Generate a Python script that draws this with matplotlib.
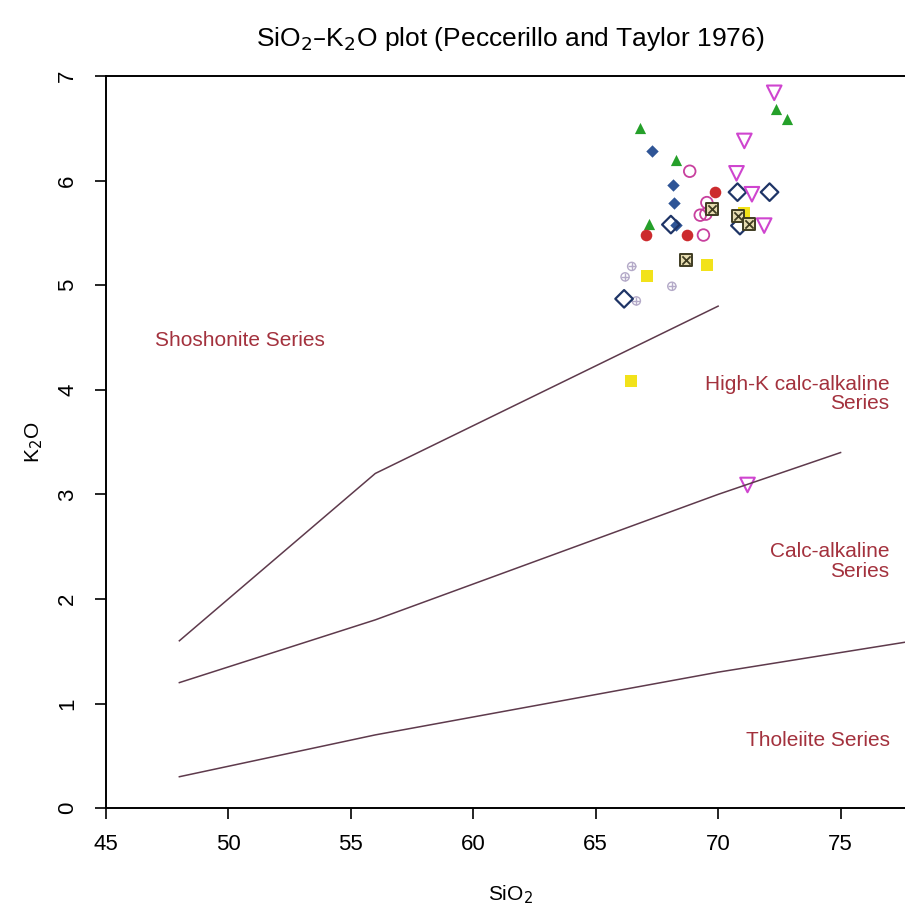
import matplotlib.pyplot as plt
import numpy as np

plt.rcParams['font.family'] = ['Liberation Sans', 'DejaVu Sans']

# classification boundaries (Peccerillo & Taylor 1976)
shosh_x = [48, 56, 63, 70]
shosh_y = [1.6, 3.2, 4.0, 4.8]
highk_x = [48, 52, 56, 63, 70, 75]
highk_y = [1.2, 1.5, 1.8, 2.4, 3.0, 3.4]
thol_x = [48, 52, 56, 63, 70, 78]
thol_y = [0.3, 0.5, 0.7, 1.0, 1.3, 1.6]

# samples, one list pair per group
green_x = [66.8, 68.27, 67.18, 72.36, 72.8]
green_y = [6.50, 6.20, 5.59, 6.69, 6.59]
blue_x = [67.29, 68.16, 68.2, 68.3]
blue_y = [6.28, 5.96, 5.79, 5.58]
ring_x = [68.84, 69.54, 69.27, 69.5, 69.4]
ring_y = [6.09, 5.79, 5.67, 5.68, 5.48]
red_x = [69.88, 67.07, 68.71]
red_y = [5.89, 5.48, 5.48]
diam_x = [70.79, 72.1, 70.89, 68.07, 66.16]
diam_y = [5.89, 5.89, 5.57, 5.58, 4.87]
tri_x = [72.29, 71.07, 70.75, 71.38, 71.88, 71.2]
tri_y = [6.84, 6.38, 6.07, 5.87, 5.57, 3.09]
yellow_x = [71.07, 69.54, 67.09, 66.43]
yellow_y = [5.69, 5.19, 5.09, 4.08]
boxx_x = [69.77, 70.82, 71.28, 68.68]
boxx_y = [5.73, 5.66, 5.59, 5.24]
grey_x = [66.47, 66.2, 68.11, 66.66]
grey_y = [5.18, 5.08, 4.99, 4.85]

fig = plt.figure(figsize=(9.05, 9.09), dpi=100)
ax = fig.add_axes([0.117, 0.111, 0.893, 0.8053])

line_col = '#5e3a4c'
ax.plot(shosh_x, shosh_y, color=line_col, lw=1.1)
ax.plot(highk_x, highk_y, color=line_col, lw=1.1)
ax.plot(thol_x, thol_y, color=line_col, lw=1.1)

ax.scatter(grey_x, grey_y, s=35, facecolors='none', edgecolors='#b4aac8', linewidths=1.0, marker='o')
ax.scatter(grey_x, grey_y, s=35, c='#b4aac8', linewidths=1.0, marker='+')
ax.scatter(yellow_x, yellow_y, s=65, c='#f2e21a', marker='s', linewidths=0)
ax.scatter(green_x, green_y, s=65, c='#25a02a', marker='^', linewidths=0)
ax.scatter(blue_x, blue_y, s=40, c='#2f5596', marker='D', linewidths=0)
ax.scatter(red_x, red_y, s=70, c='#cc2b2e', marker='o', linewidths=0)
ax.scatter(ring_x, ring_y, s=70, facecolors='none', edgecolors='#c8409e', linewidths=1.3, marker='o')
ax.scatter(diam_x, diam_y, s=80, facecolors='none', edgecolors='#1e3466', linewidths=1.6, marker='D')
ax.scatter(tri_x, tri_y, s=110, facecolors='none', edgecolors='#cf45cf', linewidths=1.5, marker='v')
ax.scatter(boxx_x, boxx_y, s=85, facecolors='#e6dcb0', edgecolors='#3f3c22', linewidths=1.4, marker='s')
ax.scatter(boxx_x, boxx_y, s=35, c='#3f3c22', linewidths=1.3, marker='x')

txt_col = '#a3313d'
ax.text(47.0, 4.47, 'Shoshonite Series', color=txt_col, fontsize=15, va='center', ha='left')
ax.text(77.0, 3.96, 'High-K calc-alkaline\nSeries', color=txt_col, fontsize=15,
        va='center', ha='right', multialignment='right', linespacing=1.05)
ax.text(77.0, 2.36, 'Calc-alkaline\nSeries', color=txt_col, fontsize=15,
        va='center', ha='right', multialignment='right', linespacing=1.05)
ax.text(77.0, 0.65, 'Tholeiite Series', color=txt_col, fontsize=15, va='center', ha='right')

ax.set_xlim(45, 78)
ax.set_ylim(0, 7)
ax.set_xticks(np.arange(45, 80, 5))
ax.set_yticks(np.arange(0, 8, 1))
ax.tick_params(direction='out', length=8, width=1.2, labelsize=16, pad=11)
ax.tick_params(axis='y', pad=12)
for lab in ax.get_yticklabels():
    lab.set_rotation(90)
    lab.set_va('center')
for sp in ax.spines.values():
    sp.set_linewidth(1.4)

ax.set_xlabel('SiO$_2$', fontsize=15, labelpad=20)
ax.set_ylabel('K$_2$O', fontsize=15, labelpad=9)
ax.set_title('SiO$_2$–K$_2$O plot (Peccerillo and Taylor 1976)', fontsize=19, pad=22)

fig.savefig('out.png', dpi=100)
